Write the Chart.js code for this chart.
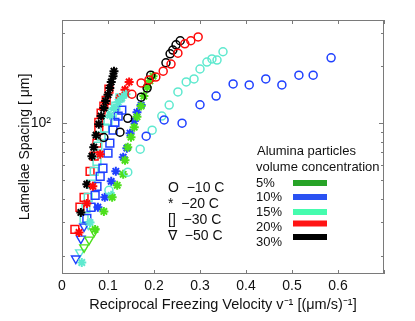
<!DOCTYPE html>
<html>
<head>
<meta charset="utf-8">
<script src="https://cdn.jsdelivr.net/npm/chart.js@4.4.1/dist/chart.umd.min.js"></script>
<style>
  html, body { margin: 0; padding: 0; background: #fff; }
  #wrap { width: 415px; height: 321px; }
</style>
</head>
<body>
<div id="wrap"><canvas id="chart" width="415" height="321"></canvas></div>
<script>
// --- DATA ---
// ticks
const xTickVals = [0, 0.1, 0.2, 0.3, 0.4, 0.5, 0.6, 0.7];
const xTickLabels = ['0', '0.1', '0.2', '0.3', '0.4', '0.5', '0.6', ''];
const yTickVals = [20, 30, 40, 50, 60, 70, 80, 90, 100, 200, 300];
const yMajorTicks = [100];

// 5% alumina
const star5X = [0.198, 0.191, 0.185, 0.178, 0.172, 0.163, 0.157, 0.150, 0.143, 0.137, 0.133, 0.120, 0.109, 0.091, 0.072];
const star5Y = [177, 167, 155, 139, 123, 108, 95.2, 84.3, 74.6, 63.7, 53.7, 47.0, 40.6, 34.2, 27.5];
const tri5X = [0.070, 0.059, 0.048];
const tri5Y = [26.8, 24.3, 22.1];

// 10% alumina
const circ10X = [0.183, 0.222, 0.261, 0.300, 0.335, 0.372, 0.407, 0.443, 0.478, 0.515, 0.546, 0.585];
const circ10Y = [85.3, 104, 100, 125, 139, 161, 159, 171, 159, 179, 179, 221];
const star10X = [0.172, 0.163, 0.157, 0.148, 0.141, 0.133, 0.117, 0.107, 0.093, 0.078];
const star10Y = [124.5, 114, 102.5, 88.5, 73.8, 66.1, 55.7, 49.3, 40.6, 36.0];
const sq10X = [0.130, 0.122, 0.115, 0.111, 0.104, 0.100, 0.089, 0.083, 0.076, 0.072, 0.063, 0.054];
const sq10Y = [117, 109, 101, 91.8, 78.4, 69.4, 57.8, 52.4, 46.4, 41.6, 36.0, 31.4];
const tri10X = [0.048, 0.041, 0.030];
const tri10Y = [28.5, 24.6, 19.3];

// 15% alumina
const circ15X = [0.102, 0.143, 0.170, 0.196, 0.217, 0.233, 0.252, 0.270, 0.287, 0.300, 0.315, 0.326, 0.337, 0.350];
const circ15Y = [44.2, 55.1, 72.9, 91.8, 108.9, 124.5, 146, 165, 171, 193, 210, 218, 215, 238];
const star15X = [0.139, 0.130, 0.122, 0.113, 0.104, 0.107, 0.061, 0.043];
const star15Y = [142, 136, 129, 120, 110, 41.6, 29.9, 18.4];
const sq15X = [0.126, 0.117, 0.109, 0.100, 0.093, 0.085, 0.078, 0.076, 0.070, 0.063, 0.057, 0.052, 0.048];
const sq15Y = [136, 123, 113, 102.5, 94.1, 85.4, 75.6, 62.9, 55.7, 47.6, 40.6, 35.5, 31.4];
const tri15X = [0.057, 0.039];
const tri15Y = [29.2, 20.8];

// 20% alumina
const circ20X = [0.152, 0.172, 0.189, 0.204, 0.220, 0.237, 0.252, 0.267, 0.280, 0.296];
const circ20Y = [142, 163, 169, 175, 188, 205, 234, 262, 272, 285];
const star20X = [0.146, 0.137, 0.126, 0.083, 0.067, 0.054, 0.037];
const star20Y = [165, 150, 136, 68.6, 46.4, 37.7, 26.5];
const sq20X = [0.102, 0.096, 0.091, 0.085, 0.080, 0.080, 0.076, 0.070, 0.061, 0.048, 0.039, 0.028];
const sq20Y = [151, 132, 123, 113, 101, 91.8, 78.4, 66.9, 55.7, 40.6, 36.0, 27.5];

// 30% alumina
const circ30X = [0.091, 0.126, 0.143, 0.172, 0.185, 0.193, 0.226, 0.235, 0.241, 0.248, 0.257];
const circ30Y = [84.0, 89.6, 106, 137, 153, 179, 208, 232, 243, 259, 272];
const star30X = [0.113, 0.111, 0.107, 0.104, 0.100, 0.095, 0.091, 0.085, 0.080, 0.074, 0.069, 0.065, 0.054, 0.041];
const star30Y = [188, 177, 165, 153, 141, 131, 120, 109, 98.8, 86.4, 74.6, 66.9, 47.6, 33.8];

// legend texts
const tempLabels = ['O  \u221210 C', '*  \u221220 C', '[]  \u221230 C', '\u2207  \u221250 C'];
const concLabels = ['5%', '10%', '15%', '20%', '30%'];

// --- STYLES ---
const FONT = "'Liberation Sans', Arial, Helvetica, sans-serif";
const GREEN = '#4ddf1c', BLUE = '#1f40ff', CYAN = '#5fe9cf', RED = '#ff0a0a', BLACK = '#000000';
const barColors = ['#27a327', '#2a52f2', '#45fcae', '#ff1414', '#000000'];

const markerStyle = {
    circle: { pointStyle: 'circle', r: 4, w: 1.5, rot: 0 },
    star:   { pointStyle: 'star', r: 4.5, w: 2, rot: 0 },
    square: { pointStyle: 'rect', r: 5.5, w: 1.5, rot: 0 },
    tri:    { pointStyle: 'triangle', r: 5, w: 1.4, rot: 180 }
};

function pts(xs, ys) {
    return xs.map((x, i) => ({ x: x, y: ys[i] }));
}

function makeSet(label, xs, ys, color, kind) {
    const m = markerStyle[kind];
    return {
        label: label,
        data: pts(xs, ys),
        showLine: false,
        borderColor: color,
        backgroundColor: 'rgba(0,0,0,0)',
        pointBorderColor: color,
        pointBackgroundColor: 'rgba(0,0,0,0)',
        pointStyle: m.pointStyle,
        pointRadius: m.r,
        pointHoverRadius: m.r,
        pointBorderWidth: m.w,
        pointRotation: m.rot
    };
}

const datasets = [
    makeSet('10% -10C', circ10X, circ10Y, BLUE, 'circle'),
    makeSet('15% -10C', circ15X, circ15Y, CYAN, 'circle'),
    makeSet('20% -10C', circ20X, circ20Y, RED, 'circle'),
    makeSet('30% -10C', circ30X, circ30Y, BLACK, 'circle'),
    makeSet('5% -20C', star5X, star5Y, GREEN, 'star'),
    makeSet('10% -20C', star10X, star10Y, BLUE, 'star'),
    makeSet('15% -20C', star15X, star15Y, CYAN, 'star'),
    makeSet('20% -20C', star20X, star20Y, RED, 'star'),
    makeSet('30% -20C', star30X, star30Y, BLACK, 'star'),
    makeSet('10% -30C', sq10X, sq10Y, BLUE, 'square'),
    makeSet('15% -30C', sq15X, sq15Y, CYAN, 'square'),
    makeSet('20% -30C', sq20X, sq20Y, RED, 'square'),
    makeSet('5% -50C', tri5X, tri5Y, GREEN, 'tri'),
    makeSet('10% -50C', tri10X, tri10Y, BLUE, 'tri'),
    makeSet('15% -50C', tri15X, tri15Y, CYAN, 'tri')
];

// --- FRAME, INWARD TICKS AND TEXT NOTES ---
const framePlugin = {
    id: 'frame',
    afterDatasetsDraw(chart) {
        const { ctx, chartArea: a, scales } = chart;
        ctx.save();
        ctx.strokeStyle = '#7a7a7a';
        ctx.lineWidth = 1;
        ctx.strokeRect(a.left + 0.5, a.top + 0.5, a.right - a.left - 1, a.bottom - a.top - 1);
        ctx.beginPath();
        xTickVals.forEach(v => {
            const px = Math.round(scales.x.getPixelForValue(v)) + 0.5;
            ctx.moveTo(px, a.bottom); ctx.lineTo(px, a.bottom - 4);
            ctx.moveTo(px, a.top); ctx.lineTo(px, a.top + 4);
        });
        yTickVals.forEach(v => {
            const py = Math.round(scales.y.getPixelForValue(v)) + 0.5;
            const len = yMajorTicks.includes(v) ? 5 : 3;
            ctx.moveTo(a.left, py); ctx.lineTo(a.left + len, py);
            ctx.moveTo(a.right, py); ctx.lineTo(a.right - len, py);
        });
        ctx.stroke();

        // temperature notes
        ctx.fillStyle = '#111';
        ctx.textBaseline = 'middle';
        ctx.textAlign = 'left';
        ctx.font = '14px ' + FONT;
        const tempRows = [188, 204, 220, 236];
        tempLabels.forEach((t, i) => ctx.fillText(t, 168, tempRows[i]));

        // concentration notes
        ctx.font = '13px ' + FONT;
        ctx.fillText('Alumina particles', 257, 151);
        ctx.fillText('volume concentration', 256, 167);
        const concRows = [183, 197, 212, 227, 242];
        const barRows = [183, 197, 212, 223.5, 237];
        concLabels.forEach((t, i) => {
            ctx.fillStyle = '#111';
            ctx.fillText(t, 256, concRows[i]);
            ctx.fillStyle = barColors[i];
            ctx.fillRect(293, barRows[i] - 3, 34, 6);
        });
        ctx.restore();
    }
};

new Chart(document.getElementById('chart').getContext('2d'), {
    type: 'scatter',
    data: { datasets: datasets },
    options: {
        responsive: false,
        animation: false,
        events: [],
        layout: { padding: { top: 20, right: 31, left: 0, bottom: 0 } },
        plugins: { legend: { display: false }, tooltip: { enabled: false } },
        scales: {
            x: {
                type: 'linear',
                min: 0, max: 0.7,
                afterFit: s => { s.height = 47; },
                afterBuildTicks: s => { s.ticks = xTickVals.map(v => ({ value: v })); },
                grid: { display: false, drawTicks: false },
                border: { display: false },
                ticks: {
                    autoSkip: false, maxRotation: 0, padding: 4,
                    color: '#111', font: { family: FONT, size: 14 },
                    callback: (v, i) => xTickLabels[i]
                },
                title: {
                    display: true,
                    text: 'Reciprocal Freezing Velocity v\u207B\u00B9 [(\u03BCm/s)\u207B\u00B9]',
                    color: '#111', font: { family: FONT, size: 14.5 },
                    padding: { top: 0, bottom: 7 }
                }
            },
            y: {
                type: 'logarithmic',
                min: 16, max: 350,
                afterFit: s => { s.width = 62; },
                afterBuildTicks: s => { s.ticks = yTickVals.map(v => ({ value: v })); },
                grid: { display: false, drawTicks: false },
                border: { display: false },
                ticks: {
                    autoSkip: false, padding: 11,
                    color: '#111', font: { family: FONT, size: 14 },
                    callback: v => (v === 100 ? '10\u00B2' : '')
                },
                title: {
                    display: true,
                    text: 'Lamellae Spacing [ \u03BCm]',
                    color: '#111', font: { family: FONT, size: 14 },
                    padding: { top: 17, bottom: 0 }
                }
            }
        }
    },
    plugins: [framePlugin]
});
</script>
</body>
</html>
